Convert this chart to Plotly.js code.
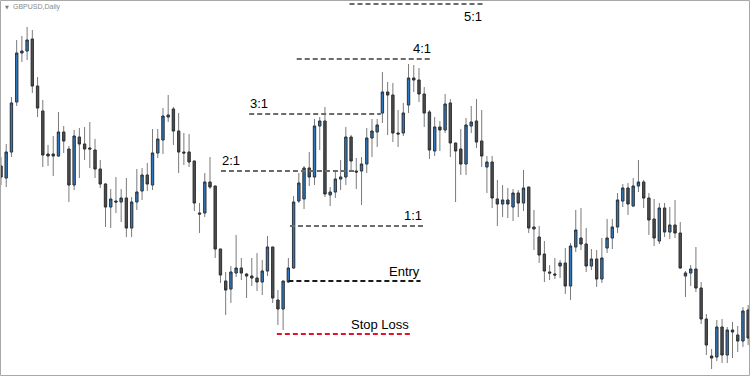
<!DOCTYPE html>
<html>
<head>
<meta charset="utf-8">
<script src="https://cdn.plot.ly/plotly-3.0.1.min.js"></script>
<style>
  html, body { margin: 0; padding: 0; background: #ffffff; }
  #chart { width: 750px; height: 376px; }
</style>
</head>
<body>
<div id="chart"></div>
<script>
// GBPUSD daily candles, oldest first
const open = [
  1.2834, 1.2822, 1.2848, 1.2898, 1.2947, 1.2949, 1.2961, 1.2914, 1.2889, 1.2846,
  1.2846, 1.2844, 1.2868, 1.2851, 1.2815, 1.2863, 1.2856, 1.2852, 1.2850, 1.2831,
  1.2816, 1.2793, 1.2799, 1.2798, 1.2802, 1.2772, 1.2798, 1.2809, 1.2825, 1.2815,
  1.2847, 1.2860, 1.2883, 1.2891, 1.2869, 1.2848, 1.2848, 1.2839, 1.2787, 1.2787,
  1.2818, 1.2814, 1.2751, 1.2719, 1.2711, 1.2727, 1.2732, 1.2726, 1.2724, 1.2722,
  1.2718, 1.2729, 1.2753, 1.2700, 1.2691, 1.2718, 1.2732, 1.2799, 1.2801, 1.2832,
  1.2823, 1.2874, 1.2879, 1.2805, 1.2808, 1.2821, 1.2823, 1.2863, 1.2829, 1.2829,
  1.2836, 1.2862, 1.2868, 1.2887, 1.2908, 1.2905, 1.2867, 1.2867, 1.2895, 1.2922,
  1.2920, 1.2906, 1.2888, 1.2849, 1.2873, 1.2870, 1.2897, 1.2857, 1.2851, 1.2836,
  1.2874, 1.2879, 1.2859, 1.2833, 1.2838, 1.2801, 1.2796, 1.2800, 1.2793, 1.2807,
  1.2797, 1.2813, 1.2771, 1.2763, 1.2746, 1.2728, 1.2726, 1.2734, 1.2737, 1.2714,
  1.2753, 1.2762, 1.2756, 1.2734, 1.2741, 1.2721, 1.2752, 1.2762, 1.2773, 1.2799,
  1.2812, 1.2794, 1.2814, 1.2818, 1.2802, 1.2781, 1.2759, 1.2792, 1.2768, 1.2775,
  1.2767, 1.2724, 1.2727, 1.2731, 1.2712, 1.2681, 1.2644, 1.2643, 1.2673, 1.2645,
  1.2670, 1.2665, 1.2659, 1.2690
];
const high = [
  1.2843, 1.2856, 1.2903, 1.2960, 1.2964, 1.2973, 1.2970, 1.2923, 1.2900, 1.2855,
  1.2864, 1.2888, 1.2874, 1.2854, 1.2870, 1.2872, 1.2873, 1.2878, 1.2861, 1.2840,
  1.2817, 1.2811, 1.2823, 1.2811, 1.2822, 1.2803, 1.2831, 1.2832, 1.2837, 1.2871,
  1.2871, 1.2892, 1.2905, 1.2893, 1.2887, 1.2867, 1.2866, 1.2839, 1.2797, 1.2827,
  1.2843, 1.2814, 1.2751, 1.2728, 1.2734, 1.2765, 1.2742, 1.2727, 1.2742, 1.2747,
  1.2740, 1.2764, 1.2753, 1.2710, 1.2719, 1.2742, 1.2804, 1.2827, 1.2834, 1.2848,
  1.2881, 1.2883, 1.2893, 1.2813, 1.2828, 1.2840, 1.2873, 1.2865, 1.2842, 1.2843,
  1.2872, 1.2881, 1.2881, 1.2928, 1.2918, 1.2917, 1.2890, 1.2897, 1.2936, 1.2935,
  1.2932, 1.2913, 1.2890, 1.2883, 1.2879, 1.2906, 1.2901, 1.2857, 1.2871, 1.2882,
  1.2894, 1.2901, 1.2890, 1.2844, 1.2844, 1.2820, 1.2815, 1.2812, 1.2811, 1.2810,
  1.2830, 1.2813, 1.2790, 1.2774, 1.2759, 1.2735, 1.2742, 1.2740, 1.2752, 1.2757,
  1.2790, 1.2792, 1.2772, 1.2751, 1.2750, 1.2762, 1.2781, 1.2781, 1.2807, 1.2816,
  1.2817, 1.2822, 1.2840, 1.2820, 1.2807, 1.2801, 1.2797, 1.2797, 1.2793, 1.2800,
  1.2778, 1.2729, 1.2735, 1.2753, 1.2718, 1.2686, 1.2651, 1.2680, 1.2681, 1.2673,
  1.2678, 1.2674, 1.2693, 1.2695
];
const low = [
  1.2815, 1.2813, 1.2843, 1.2894, 1.2938, 1.2940, 1.2907, 1.2883, 1.2833, 1.2834,
  1.2824, 1.2843, 1.2847, 1.2798, 1.2810, 1.2822, 1.2840, 1.2832, 1.2822, 1.2812,
  1.2773, 1.2772, 1.2787, 1.2778, 1.2763, 1.2763, 1.2790, 1.2800, 1.2809, 1.2810,
  1.2842, 1.2846, 1.2878, 1.2855, 1.2827, 1.2835, 1.2833, 1.2789, 1.2767, 1.2783,
  1.2811, 1.2742, 1.2717, 1.2685, 1.2697, 1.2723, 1.2720, 1.2702, 1.2714, 1.2709,
  1.2705, 1.2724, 1.2697, 1.2675, 1.2670, 1.2717, 1.2731, 1.2797, 1.2791, 1.2814,
  1.2815, 1.2850, 1.2803, 1.2794, 1.2802, 1.2810, 1.2815, 1.2829, 1.2811, 1.2795,
  1.2827, 1.2843, 1.2853, 1.2877, 1.2865, 1.2858, 1.2853, 1.2864, 1.2887, 1.2908,
  1.2898, 1.2873, 1.2841, 1.2844, 1.2849, 1.2867, 1.2843, 1.2798, 1.2825, 1.2825,
  1.2867, 1.2852, 1.2833, 1.2807, 1.2792, 1.2774, 1.2783, 1.2782, 1.2779, 1.2783,
  1.2789, 1.2767, 1.2750, 1.2737, 1.2718, 1.2720, 1.2721, 1.2722, 1.2706, 1.2700,
  1.2748, 1.2750, 1.2728, 1.2730, 1.2713, 1.2717, 1.2747, 1.2751, 1.2767, 1.2793,
  1.2785, 1.2793, 1.2808, 1.2792, 1.2765, 1.2754, 1.2756, 1.2763, 1.2761, 1.2762,
  1.2731, 1.2703, 1.2714, 1.2708, 1.2676, 1.2645, 1.2631, 1.2639, 1.2637, 1.2637,
  1.2642, 1.2648, 1.2653, 1.2655
];
const close = [
  1.2823, 1.2848, 1.2897, 1.2947, 1.2949, 1.2960, 1.2914, 1.2892, 1.2845, 1.2844,
  1.2844, 1.2868, 1.2859, 1.2815, 1.2864, 1.2856, 1.2851, 1.2851, 1.2831, 1.2816,
  1.2793, 1.2801, 1.2798, 1.2802, 1.2772, 1.2798, 1.2808, 1.2825, 1.2816, 1.2847,
  1.2861, 1.2884, 1.2885, 1.2869, 1.2848, 1.2847, 1.2838, 1.2797, 1.2786, 1.2818,
  1.2813, 1.2751, 1.2725, 1.2710, 1.2728, 1.2732, 1.2727, 1.2724, 1.2722, 1.2718,
  1.2729, 1.2753, 1.2702, 1.2691, 1.2719, 1.2732, 1.2798, 1.2817, 1.2832, 1.2823,
  1.2874, 1.2879, 1.2806, 1.2808, 1.2821, 1.2823, 1.2863, 1.2839, 1.2828, 1.2836,
  1.2862, 1.2869, 1.2875, 1.2908, 1.2905, 1.2867, 1.2866, 1.2887, 1.2922, 1.2920,
  1.2906, 1.2887, 1.2850, 1.2873, 1.2870, 1.2896, 1.2857, 1.2849, 1.2836, 1.2875,
  1.2878, 1.2858, 1.2844, 1.2838, 1.2802, 1.2796, 1.2800, 1.2796, 1.2807, 1.2797,
  1.2812, 1.2772, 1.2773, 1.2745, 1.2729, 1.2727, 1.2725, 1.2737, 1.2714, 1.2754,
  1.2770, 1.2756, 1.2734, 1.2741, 1.2721, 1.2742, 1.2762, 1.2773, 1.2800, 1.2812,
  1.2796, 1.2814, 1.2818, 1.2802, 1.2780, 1.2762, 1.2792, 1.2768, 1.2775, 1.2767,
  1.2732, 1.2727, 1.2731, 1.2712, 1.2681, 1.2655, 1.2642, 1.2673, 1.2645, 1.2670,
  1.2668, 1.2659, 1.2689, 1.2662
];

// Trade plan: stop, entry and reward:risk targets
const levelLabels = ['5:1', '4:1', '3:1', '2:1', '1:1', 'Entry', 'Stop Loss'];
const levelPrices = [1.2996, 1.2941, 1.2886, 1.2829, 1.2774, 1.2719, 1.2666];

const symbolLabel = 'GBPUSD,Daily';

// ---- drawing ----
const bars = open.map((_, i) => i);
const bodyTop = open.map((o, i) => Math.max(o, close[i]));
const bodyBottom = open.map((o, i) => Math.min(o, close[i]));

const wickColor = '#7a7a7a';
const outline = '#2a2d31';
const upFill = '#2f78bd';
const downFill = '#4e4e4e';

// Full high/low range: draws the grey wicks
const wicks = {
  type: 'candlestick',
  x: bars, open: open, high: high, low: low, close: close,
  increasing: { line: { color: wickColor, width: 1 }, fillcolor: upFill },
  decreasing: { line: { color: wickColor, width: 1 }, fillcolor: downFill },
  whiskerwidth: 0,
  hoverinfo: 'skip',
  showlegend: false
};
// Open/close bodies with a dark outline, laid over the wicks
const bodies = {
  type: 'candlestick',
  x: bars, open: open, high: bodyTop, low: bodyBottom, close: close,
  increasing: { line: { color: outline, width: 0.8 }, fillcolor: upFill },
  decreasing: { line: { color: outline, width: 0.8 }, fillcolor: downFill },
  whiskerwidth: 0,
  hoverinfo: 'skip',
  showlegend: false
};

// Horizontal extent of each level line (in bar units) and label placement
const levelStyle = [
  { span: [66.7, 92.3], color: '#6b6b6b', side: 'right', shift: -12 },
  { span: [56.6, 82.5], color: '#6b6b6b', side: 'right', shift: 11 },
  { span: [47.5, 72.7], color: '#6b6b6b', side: 'left',  shift: 11 },
  { span: [42.1, 68.1], color: '#6b6b6b', side: 'left',  shift: 11 },
  { span: [55.3, 80.8], color: '#6b6b6b', side: 'right', shift: 11 },
  { span: [55.0, 80.3], color: '#1a1a1a', side: 'right', shift: 10 },
  { span: [52.8, 78.3], color: '#e3132d', side: 'right', shift: 10 }
];

const shapes = levelPrices.map((p, i) => ({
  type: 'line', xref: 'x', yref: 'y',
  x0: levelStyle[i].span[0], x1: levelStyle[i].span[1], y0: p, y1: p,
  line: { color: levelStyle[i].color, width: 2, dash: '5px,3px' },
  layer: 'above'
}));
// Chart frame
shapes.push({
  type: 'rect', xref: 'paper', yref: 'paper',
  x0: 0.5 / 750, x1: 749.5 / 750, y0: 0.5 / 376, y1: 375.5 / 376,
  line: { color: '#a8a8a8', width: 1 }, fillcolor: 'rgba(0,0,0,0)', layer: 'above'
});

const annotations = levelPrices.map((p, i) => {
  const st = levelStyle[i];
  const right = st.side === 'right';
  return {
    xref: 'x', yref: 'y',
    x: right ? st.span[1] : st.span[0], y: p,
    xanchor: right ? 'right' : 'left', yanchor: 'middle',
    xshift: right ? 1 : -1,
    yshift: st.shift,
    text: levelLabels[i], showarrow: false,
    font: { family: 'Liberation Sans, Arial, sans-serif', size: 13, color: '#000000' }
  };
});
annotations.push({
  xref: 'paper', yref: 'paper', x: 3 / 750, y: 1 - 7 / 376,
  xanchor: 'left', yanchor: 'middle', showarrow: false,
  text: '▼', font: { family: 'DejaVu Sans, sans-serif', size: 5, color: '#7a7a7a' }
});
annotations.push({
  xref: 'paper', yref: 'paper', x: 11 / 750, y: 1 - 7 / 376,
  xanchor: 'left', yanchor: 'middle', showarrow: false,
  text: symbolLabel, font: { family: 'Liberation Sans, Arial, sans-serif', size: 7, color: '#8a8a8a' }
});

const layout = {
  width: 750, height: 376,
  margin: { l: 0, r: 0, t: 0, b: 0 },
  paper_bgcolor: '#ffffff', plot_bgcolor: '#ffffff',
  showlegend: false,
  boxgap: 0.38,
  xaxis: {
    range: [-0.19, 143.35], visible: false, fixedrange: true,
    rangeslider: { visible: false }
  },
  yaxis: { range: [1.2624, 1.3000], visible: false, fixedrange: true },
  shapes: shapes,
  annotations: annotations,
  hovermode: false
};

Plotly.newPlot('chart', [wicks, bodies], layout, { displayModeBar: false, staticPlot: true });
</script>
</body>
</html>
